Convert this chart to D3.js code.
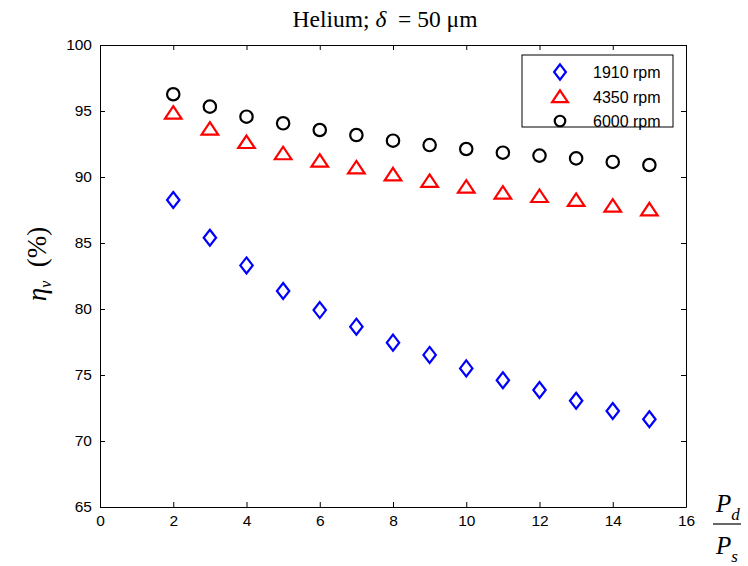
<!DOCTYPE html>
<html>
<head>
<meta charset="utf-8">
<script src="https://cdn.jsdelivr.net/npm/d3@7"></script>
<style>
  html, body { margin: 0; padding: 0; background: #fff; }
  svg { display: block; }
  .tick text { font-family: "Liberation Sans", Arial, sans-serif; font-size: 15.5px; fill: #000; }
</style>
</head>
<body>
<svg id="chart" width="748" height="566"></svg>
<script>
// Pressure ratio Pd/Ps
const pressureRatio = [2, 3, 4, 5, 6, 7, 8, 9, 10, 11, 12, 13, 14, 15];
// Volumetric efficiency (%) at each shaft speed
const eta1910 = [88.26, 85.4, 83.3, 81.36, 79.92, 78.66, 77.45, 76.52, 75.5, 74.6, 73.86, 73.05, 72.27, 71.65];
const eta4350 = [94.87, 93.66, 92.65, 91.8, 91.24, 90.73, 90.2, 89.7, 89.27, 88.81, 88.56, 88.26, 87.83, 87.55];
const eta6000 = [96.27, 95.33, 94.57, 94.07, 93.56, 93.18, 92.75, 92.42, 92.12, 91.84, 91.62, 91.41, 91.14, 90.91];
const seriesNames = ["1910 rpm", "4350 rpm", "6000 rpm"];
const xTicks = [0, 2, 4, 6, 8, 10, 12, 14, 16];
const yTicks = [65, 70, 75, 80, 85, 90, 95, 100];

const svg = d3.select("#chart");
const plot = { left: 100, right: 686, top: 45, bottom: 507 };

const x = d3.scaleLinear().domain([0, 16]).range([plot.left, plot.right]);
const y = d3.scaleLinear().domain([65, 100]).range([plot.bottom, plot.top]);

// Outlined marker shapes
function markerPath(kind, scale = 1) {
  if (kind === "circle") {
    const p = d3.path(); p.arc(0, 0, 6.2 * scale, 0, 2 * Math.PI); p.closePath(); return p.toString();
  }
  if (kind === "diamond") {
    return `M0,${-8 * scale}L${6.2 * scale},0L0,${8 * scale}L${-6.2 * scale},0Z`;
  }
  return `M0,${-6.5 * scale}L${8.3 * scale},${6 * scale}L${-8.3 * scale},${6 * scale}Z`;
}

const series = [
  { name: seriesNames[0], values: eta1910, color: "#0000ff", shape: "diamond" },
  { name: seriesNames[1], values: eta4350, color: "#ff0000", shape: "triangle" },
  { name: seriesNames[2], values: eta6000, color: "#000000", shape: "circle" }
];

// Axes box with inward ticks on all four sides
const tickLen = 5;
svg.append("g").attr("transform", `translate(0,${plot.bottom})`)
  .call(d3.axisBottom(x).tickValues(xTicks).tickSizeInner(-tickLen).tickSizeOuter(0).tickPadding(8))
  .call(g => g.select(".domain").attr("stroke", "#000"));
svg.append("g").attr("transform", `translate(0,${plot.top})`)
  .call(d3.axisTop(x).tickValues(xTicks).tickSizeInner(-tickLen).tickSizeOuter(0).tickFormat(""))
  .call(g => g.select(".domain").attr("stroke", "#000"));
svg.append("g").attr("transform", `translate(${plot.left},0)`)
  .call(d3.axisLeft(y).tickValues(yTicks).tickSizeInner(-tickLen).tickSizeOuter(0).tickPadding(8))
  .call(g => g.select(".domain").attr("stroke", "#000"));
svg.append("g").attr("transform", `translate(${plot.right},0)`)
  .call(d3.axisRight(y).tickValues(yTicks).tickSizeInner(-tickLen).tickSizeOuter(0).tickFormat(""))
  .call(g => g.select(".domain").attr("stroke", "#000"));
svg.selectAll(".tick line").attr("stroke", "#000");

// Data markers
series.forEach(s => {
  svg.append("g").selectAll("path")
    .data(pressureRatio.map((p, i) => ({ p, v: s.values[i] })))
    .join("path")
    .attr("d", markerPath(s.shape))
    .attr("transform", d => `translate(${x(d.p)},${y(d.v)})`)
    .attr("fill", "none")
    .attr("stroke", s.color)
    .attr("stroke-width", 2.2);
});

// Legend
const legend = svg.append("g");
legend.append("rect")
  .attr("x", 522).attr("y", 55).attr("width", 151).attr("height", 72)
  .attr("fill", "#fff").attr("stroke", "#000").attr("stroke-width", 1);
series.forEach((s, i) => {
  const cy = 72 + i * 24.5;
  legend.append("path")
    .attr("d", markerPath(s.shape, s.shape === "circle" ? 0.85 : 0.95))
    .attr("transform", `translate(560,${cy})`)
    .attr("fill", "none").attr("stroke", s.color).attr("stroke-width", 2.2);
  legend.append("text")
    .attr("x", 593).attr("y", cy + 6)
    .attr("font-family", "Liberation Sans, Arial, sans-serif")
    .attr("font-size", 16)
    .text(s.name);
});

// Title
const title = svg.append("text")
  .attr("x", 385).attr("y", 27)
  .attr("text-anchor", "middle")
  .attr("font-family", "Liberation Serif, Times New Roman, serif")
  .attr("font-size", 23.5);
title.append("tspan").text("Helium; ");
title.append("tspan").attr("font-style", "italic").text("δ");
title.append("tspan").text("\u2002= 50 μm");

// Y-axis label
const yLabel = svg.append("text")
  .attr("transform", "translate(46,264) rotate(-90)")
  .attr("text-anchor", "middle")
  .attr("font-family", "Liberation Serif, Times New Roman, serif")
  .attr("font-size", 27);
yLabel.append("tspan").attr("font-style", "italic").text("η");
yLabel.append("tspan").attr("font-style", "italic").attr("font-size", 16).attr("dy", 5).text("v");
yLabel.append("tspan").attr("dy", -5).text("\u2002(%)");

// X-axis label as a fraction Pd / Ps
const xLab = svg.append("g")
  .attr("font-family", "Liberation Serif, Times New Roman, serif")
  .attr("font-style", "italic");
const num = xLab.append("text").attr("x", 716).attr("y", 512).attr("font-size", 25);
num.append("tspan").text("P");
num.append("tspan").attr("font-size", 17).attr("dy", 8).text("d");
xLab.append("line")
  .attr("x1", 713).attr("x2", 741).attr("y1", 524).attr("y2", 524)
  .attr("stroke", "#000").attr("stroke-width", 1.2);
const den = xLab.append("text").attr("x", 716).attr("y", 554).attr("font-size", 25);
den.append("tspan").text("P");
den.append("tspan").attr("font-size", 17).attr("dy", 8).text("s");
</script>
</body>
</html>
